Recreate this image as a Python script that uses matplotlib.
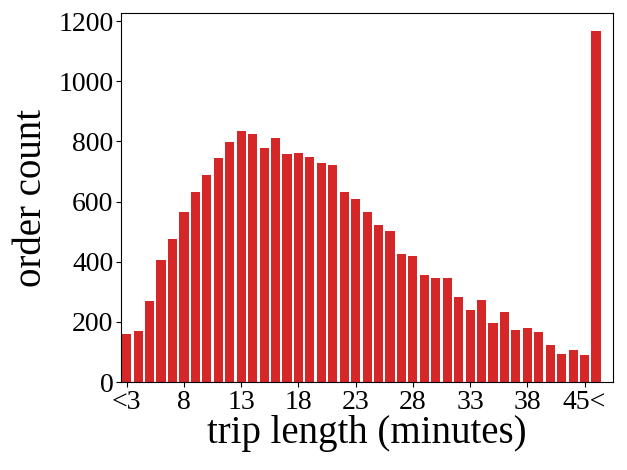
import matplotlib
matplotlib.use("Agg")
import matplotlib.pyplot as plt
from matplotlib.ticker import MultipleLocator
import numpy as np

plt.rcParams['font.family'] = ['Liberation Serif', 'DejaVu Serif']
plt.rcParams['mathtext.fontset'] = 'stix'

# order counts per trip length bin (<3, 3, 4, ..., 44, 45<)
counts = [160, 170, 270, 405, 476, 566, 633, 689, 746, 799,
          835, 825, 779, 812, 759, 762, 749, 729, 722, 633,
          609, 566, 523, 503, 427, 420, 357, 347, 347, 284,
          240, 274, 197, 234, 174, 181, 167, 124, 94, 108,
          91, 1168]
tick_pos = [0, 5, 10, 15, 20, 25, 30, 35, 40]
tick_labels = ['<3', '8', '13', '18', '23', '28', '33', '38', '45<']

fig = plt.figure(figsize=(6.27, 4.70), dpi=100)
ax = fig.add_axes([0.193, 0.187, 0.785, 0.785])

x = np.arange(len(counts))
ax.bar(x, counts, width=0.8, color='#d62728')

ax.set_xlim(-0.5, 42.5)
ax.set_xticks(tick_pos)
ax.set_xticklabels(tick_labels)
ax.yaxis.set_major_locator(MultipleLocator(200))
ax.tick_params(axis='both', labelsize=20, pad=2)
ax.set_xlabel('trip length (minutes)', fontsize=28, labelpad=0)
ax.set_ylabel('order count', fontsize=28, labelpad=6)

fig.savefig('out.png', dpi=100)
